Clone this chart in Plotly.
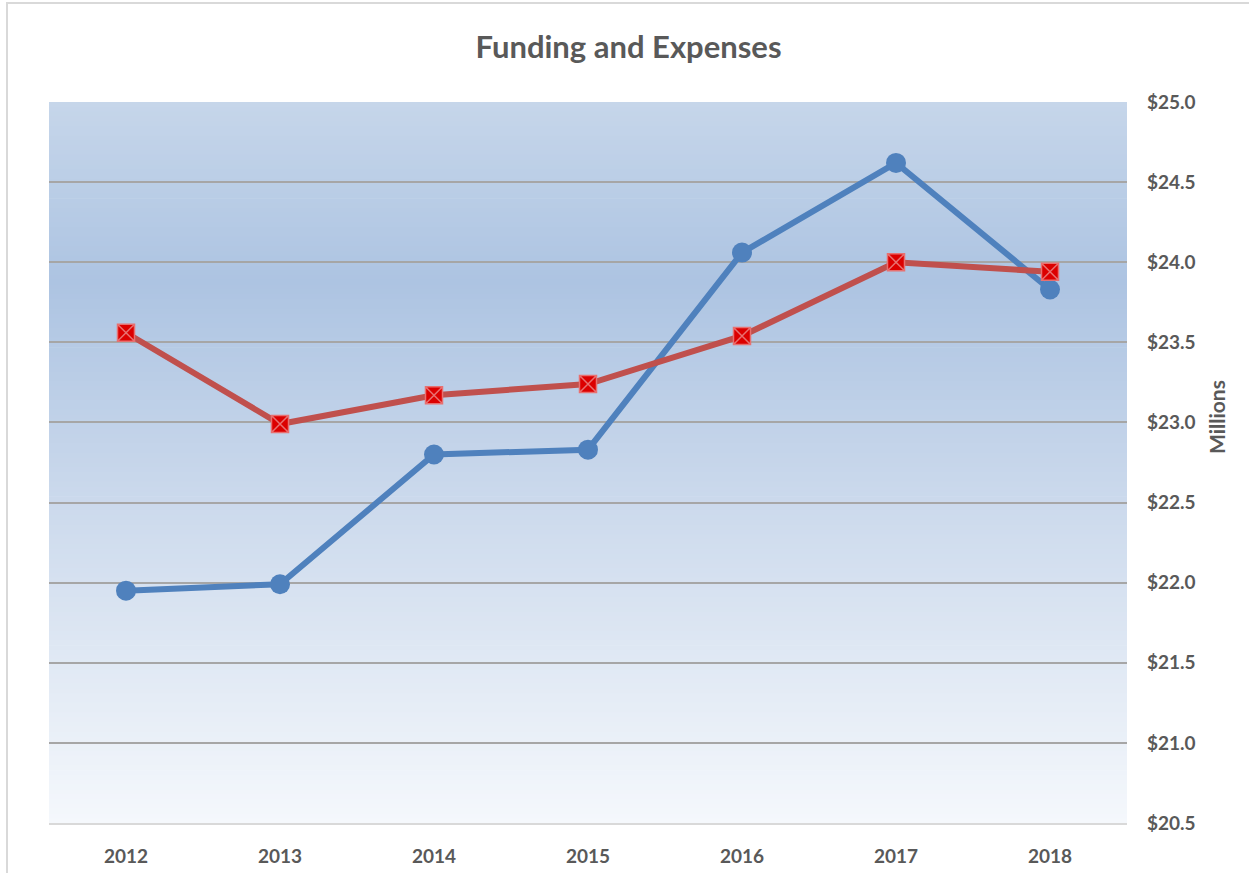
import plotly.graph_objects as go

# Annual figures, in millions of dollars
years = ["2012", "2013", "2014", "2015", "2016", "2017", "2018"]
funding = [21.95, 21.99, 22.80, 22.83, 24.06, 24.62, 23.83]
expenses = [23.56, 22.99, 23.17, 23.24, 23.54, 24.00, 23.94]
y_ticks = [20.5, 21.0, 21.5, 22.0, 22.5, 23.0, 23.5, 24.0, 24.5, 25.0]
y_tick_labels = [f"${v:.1f}" for v in y_ticks]

W, H = 1249, 873
M_L, M_R, M_T, M_B = 49, 122, 102, 50
PW = W - M_L - M_R
PH = H - M_T - M_B

FONT = "Lato"
TEXT_GREY = "#595959"

fig = go.Figure()

fig.add_trace(go.Scatter(
    x=years, y=funding, mode="lines+markers", name="Funding",
    line=dict(color="#4f81bd", width=6),
    marker=dict(symbol="circle", size=20, color="#4f81bd",
                line=dict(color="#4f81bd", width=0)),
))
fig.add_trace(go.Scatter(
    x=years, y=expenses, mode="lines+markers", name="Expenses",
    line=dict(color="#c0504d", width=6),
    marker=dict(symbol="square-x", size=17, color="#dc0000",
                line=dict(color="#e87070", width=1.5)),
))

# Vertical gradient behind the plot area, built from thin bands
stops = [(0.0, (198, 214, 234)), (0.25, (173, 196, 226)),
         (0.55, (203, 217, 236)), (1.0, (245, 248, 252))]


def grad_color(t):
    for (t0, c0), (t1, c1) in zip(stops[:-1], stops[1:]):
        if t0 <= t <= t1:
            f = (t - t0) / (t1 - t0)
            return "rgb({},{},{})".format(*[round(a + (b - a) * f) for a, b in zip(c0, c1)])
    return "rgb({},{},{})".format(*stops[-1][1])


shapes = []
n_bands = 150
for i in range(n_bands):
    top = 1 - i / n_bands
    bot = 1 - (i + 1) / n_bands
    shapes.append(dict(
        type="rect", xref="x domain", yref="y domain",
        x0=0, x1=1, y0=bot - 0.001, y1=top,
        fillcolor=grad_color((i + 0.5) / n_bands),
        line=dict(width=0), layer="below",
    ))

# Light grey frame around the chart area
shapes.append(dict(
    type="rect", xref="paper", yref="paper",
    x0=(7 - M_L) / PW, x1=(W + 20 - M_L) / PW,
    y0=-0.2, y1=(H - M_B - 3) / PH,
    line=dict(color="#d9d9d9", width=2), fillcolor="rgba(0,0,0,0)", layer="below",
))

fig.update_layout(
    width=W, height=H,
    margin=dict(l=M_L, r=M_R, t=M_T, b=M_B, autoexpand=False),
    paper_bgcolor="white",
    plot_bgcolor="white",
    showlegend=False,
    shapes=shapes,
    font=dict(family=FONT, color=TEXT_GREY),
    title=dict(
        text="<b>Funding and Expenses</b>",
        x=628.5 / W, xref="container", xanchor="center",
        y=1 - 47 / H, yref="container", yanchor="middle",
        font=dict(family=FONT, size=31, color=TEXT_GREY),
    ),
    xaxis=dict(
        type="category", categoryorder="array", categoryarray=years,
        range=[-0.5, len(years) - 0.5], automargin=False,
        showgrid=False, zeroline=False,
        showline=True, linecolor="#d9d9d9", linewidth=2,
        ticks="", ticklabelstandoff=15,
        tickfont=dict(family=FONT, size=19, color=TEXT_GREY),
        tickprefix="<b>", ticksuffix="</b>",
    ),
    yaxis=dict(
        side="right", range=[20.5, 25.0], automargin=False,
        tickvals=y_ticks, ticktext=[f"<b>{t}</b>" for t in y_tick_labels],
        showgrid=True, gridcolor="#a6a6a6", gridwidth=2,
        zeroline=False, showline=False, ticks="",
        ticklabelstandoff=19,
        tickfont=dict(family=FONT, size=19, color=TEXT_GREY),
    ),
    annotations=[dict(
        text="<b>Millions</b>", xref="paper", yref="paper",
        x=(1216 - M_L) / PW, y=(H - M_B - 417) / PH,
        xanchor="center", yanchor="middle", textangle=-90, showarrow=False,
        font=dict(family=FONT, size=21, color=TEXT_GREY),
    )],
)

fig.write_html("out.html")
